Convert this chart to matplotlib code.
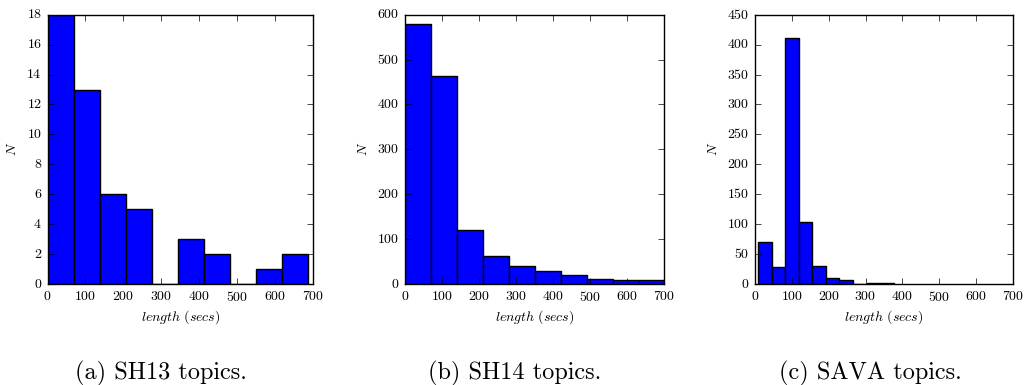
import numpy as np
import matplotlib
matplotlib.use("Agg")
import matplotlib.pyplot as plt

plt.style.use("classic")
plt.rcParams["font.family"] = "serif"
plt.rcParams["font.serif"] = ["cmr10"]
plt.rcParams["mathtext.fontset"] = "cm"
plt.rcParams["axes.formatter.use_mathtext"] = True

# histogram counts per bin (10 bins each) and the range the bins span
sh13_counts = [18, 13, 6, 5, 0, 3, 2, 0, 1, 2]
sh13_range = (0, 686)
sh14_counts = [580, 463, 120, 63, 40, 28, 19, 12, 10, 8]
sh14_range = (0, 702)
sava_counts = [70, 28, 411, 104, 30, 10, 7, 0, 1, 2]
sava_range = (9, 376)

ymax = [18, 600, 450]
captions = ["(a) SH13 topics.", "(b) SH14 topics.", "(c) SAVA topics."]

fig = plt.figure(figsize=(10.3, 3.85), dpi=100)
fig.patch.set_facecolor("white")

# axes boxes in pixels: left, right; caption centres
boxes = [(47.5, 313.5), (405, 664), (755, 1013)]
cap_x = [161, 515, 870]
top, bottom = 14.7, 284
W, H = 1030.0, 385.0

data = [(sh13_counts, sh13_range), (sh14_counts, sh14_range), (sava_counts, sava_range)]

for i, ((counts, rng), (l, r)) in enumerate(zip(data, boxes)):
    ax = fig.add_axes([l / W, 1 - bottom / H, (r - l) / W, (bottom - top) / H])
    edges = np.linspace(rng[0], rng[1], len(counts) + 1)
    centers = 0.5 * (edges[:-1] + edges[1:])
    ax.hist(centers, bins=edges, weights=counts, color="b", edgecolor="k", linewidth=1.0)
    ax.set_xlim(0, 700)
    ax.set_ylim(0, ymax[i])
    ax.set_xticks(np.arange(0, 701, 100))
    ax.tick_params(labelsize=10)
    ax.set_xlabel(r"$length\ (secs)$", fontsize=10, labelpad=3)
    ax.set_ylabel(r"$N$", fontsize=10)
    fig.text(cap_x[i] / W, 1 - 373 / H, captions[i], ha="center", va="center", fontsize=17.5)

fig.savefig("out.png", dpi=100, facecolor="white")
